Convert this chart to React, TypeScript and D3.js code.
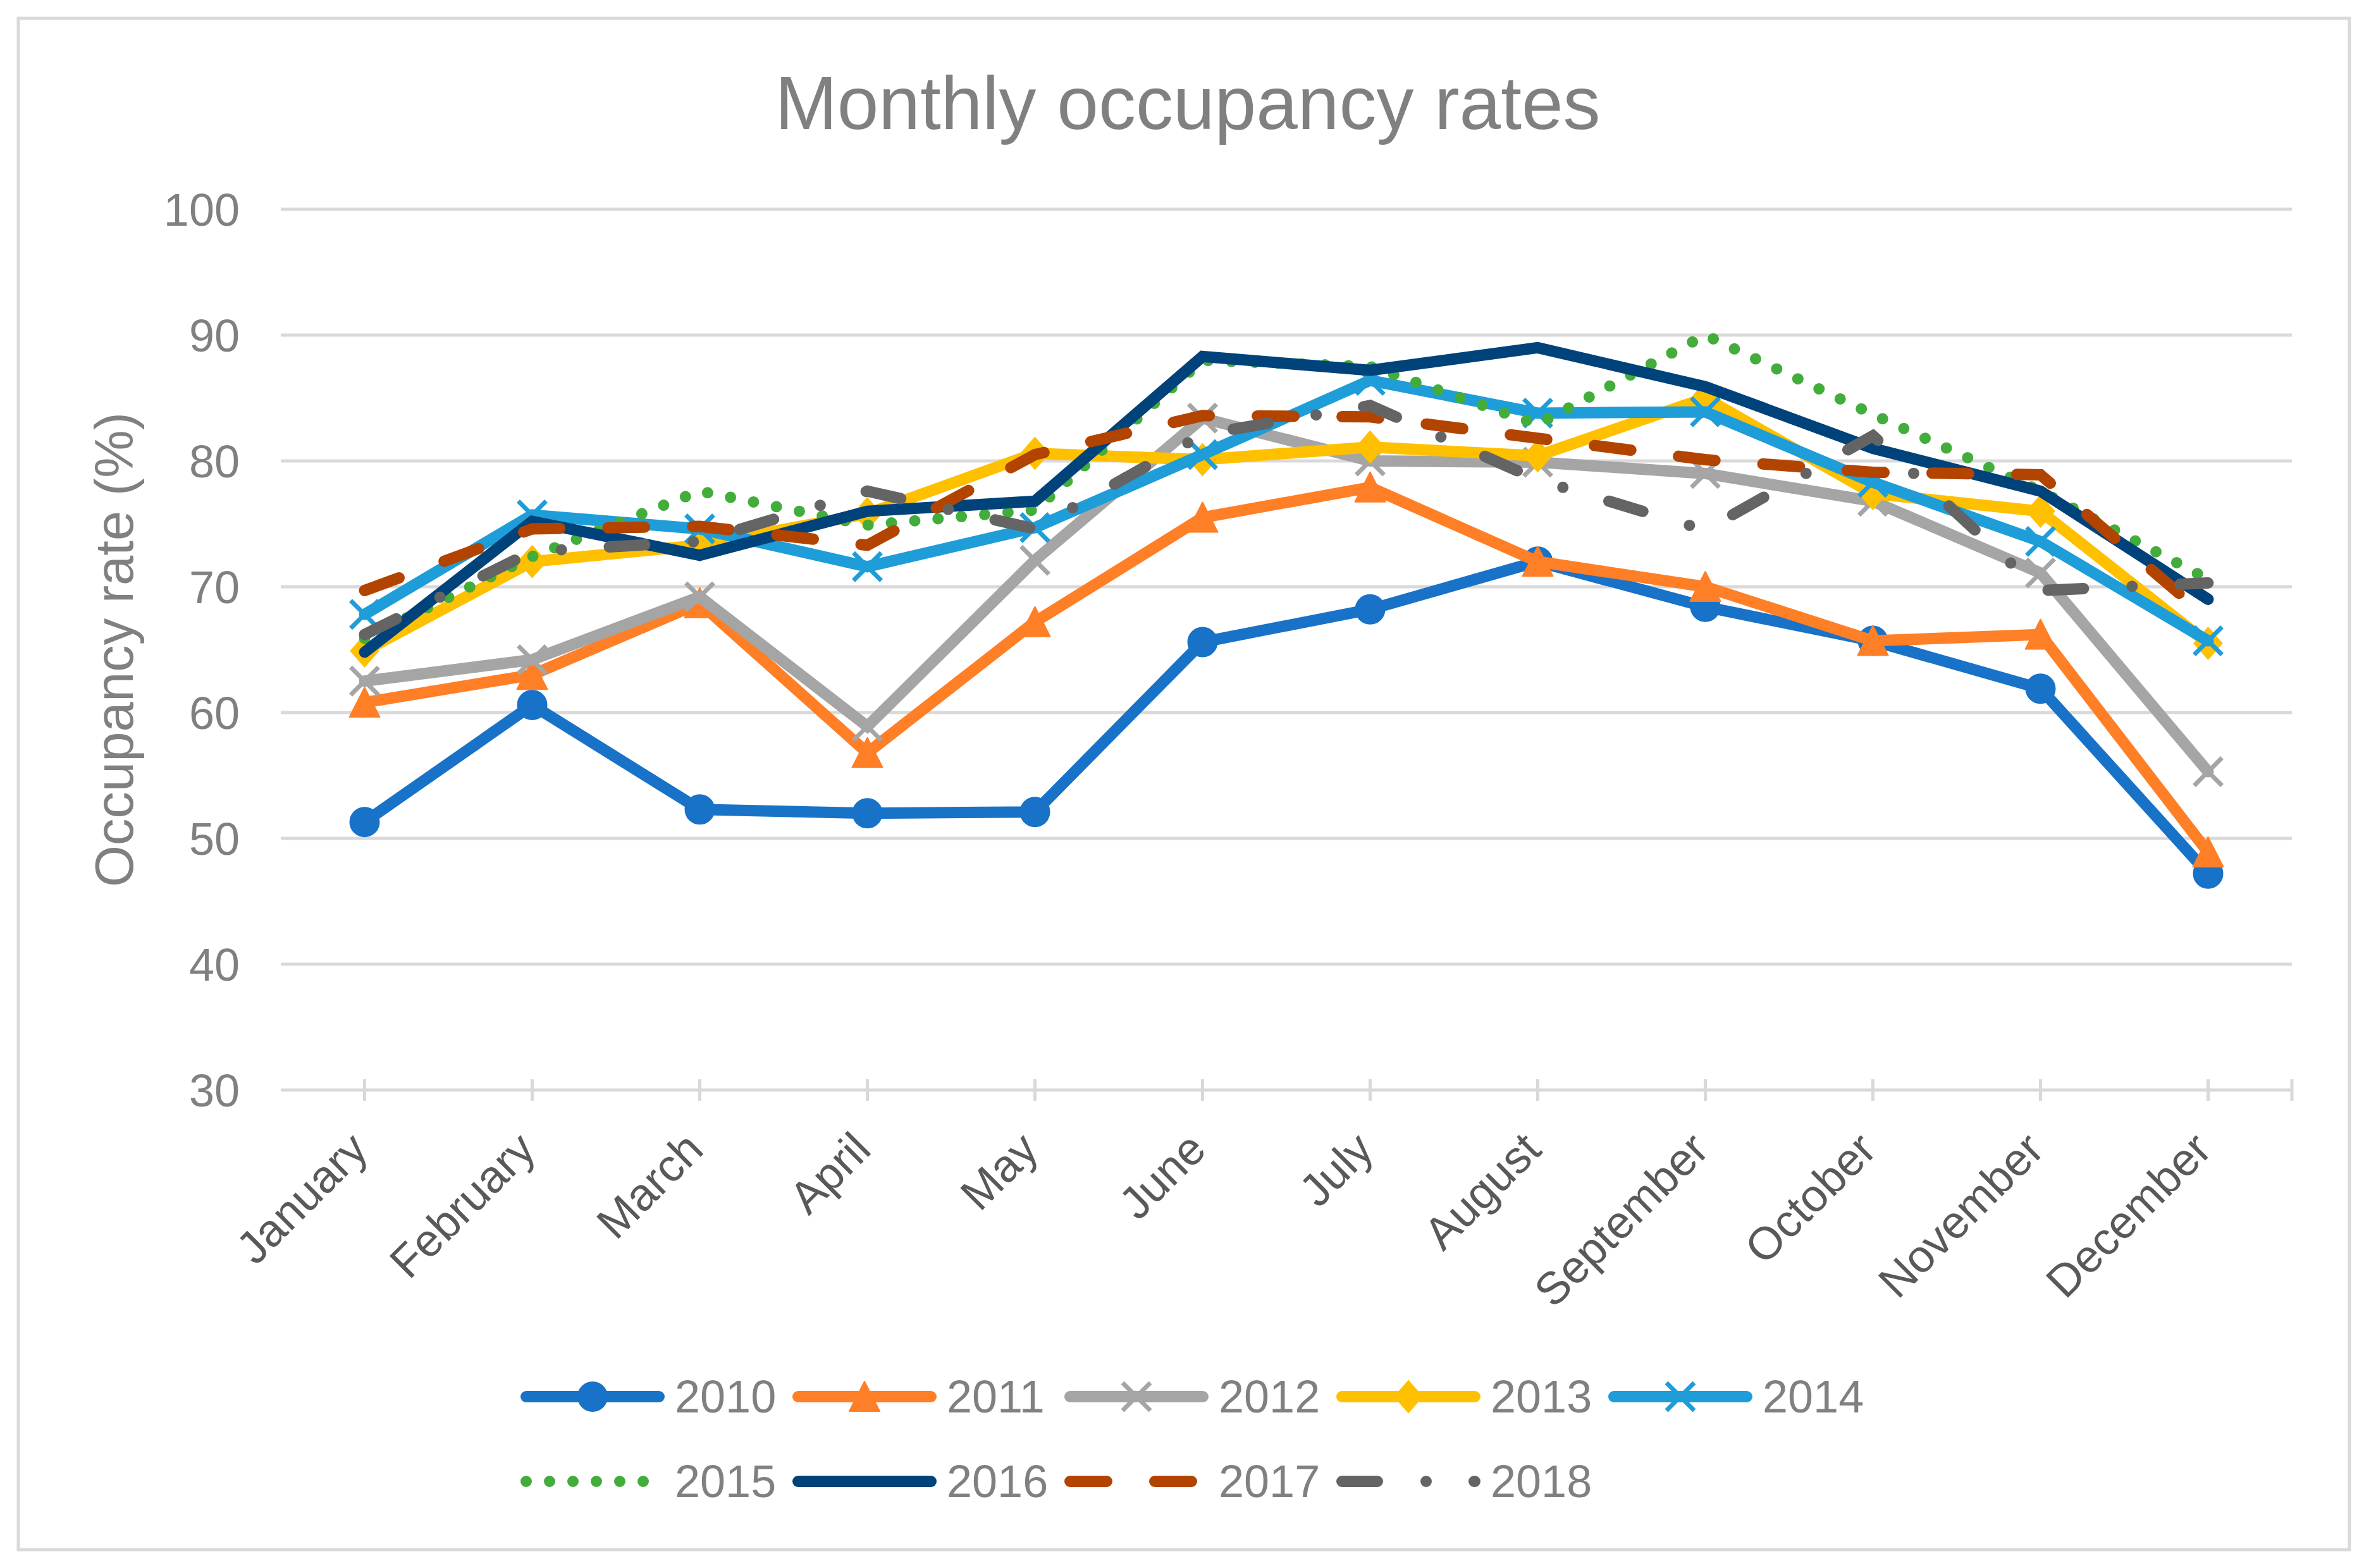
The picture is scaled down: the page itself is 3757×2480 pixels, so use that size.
import React from "react";
import * as d3 from "d3";

const months = ["January","February","March","April","May","June","July","August","September","October","November","December"];
const years = ["2010","2011","2012","2013","2014","2015","2016","2017","2018"];
const yTicks = [30,40,50,60,70,80,90,100];

const v2010 = [51.3, 60.6, 52.3, 52.0, 52.1, 65.6, 68.2, 72.0, 68.4, 65.7, 61.9, 47.2];
const v2011 = [60.8, 63.0, 68.7, 56.8, 67.2, 75.5, 77.9, 72.0, 70.0, 65.7, 66.2, 48.9];
const v2012 = [62.5, 64.2, 69.2, 58.9, 72.1, 83.4, 80.0, 79.9, 79.0, 76.8, 71.1, 55.3];
const v2013 = [64.9, 72.0, 73.3, 75.8, 80.6, 80.1, 81.1, 80.4, 85.0, 77.4, 76.0, 65.5];
const v2014 = [67.8, 75.7, 74.6, 71.6, 74.7, 80.5, 86.4, 83.8, 83.9, 78.3, 73.6, 65.7];
const v2015 = [65.9, 72.4, 77.6, 74.9, 76.1, 88.0, 87.5, 82.9, 90.0, 83.7, 77.6, 70.6];
const v2016 = [64.8, 75.2, 72.5, 76.0, 76.8, 88.3, 87.2, 89.0, 85.9, 81.0, 77.6, 69.0];
const v2017 = [69.7, 74.6, 74.8, 73.3, 80.5, 83.6, 83.5, 81.8, 80.1, 79.1, 78.9, 67.5];
const v2018 = [66.2, 72.8, 73.6, 77.6, 74.6, 82.1, 84.4, 78.5, 74.5, 82.0, 69.7, 70.3];

const seriesValues = [v2010, v2011, v2012, v2013, v2014, v2015, v2016, v2017, v2018];
const colors = ["#1872c8","#ff7f27","#a5a5a5","#ffc000","#1e9dd8","#43ad3b","#00427a","#b34400","#646464"];
const markers = ["circle","triangle","x","diamond","x","none","none","none","none"];
const dashes = [null, null, null, null, null, "0 37", null, "58 76", "56 77 0 76"];

const W = 3757, H = 2480;
const PL = 444, PR = 3624, PT = 331, PB = 1724;
const FONT = "'Liberation Sans', Arial, Helvetica, sans-serif";
const LW = 18;

function Marker({ type, x, y, color }: { type: string; x: number; y: number; color: string }) {
  if (type === "circle") return <circle cx={x} cy={y} r={23} fill={color} stroke={color} strokeWidth={2} />;
  if (type === "triangle") {
    const p = `M${x},${y - 24} L${x + 24},${y + 23} L${x - 24},${y + 23} Z`;
    return <path d={p} fill={color} stroke={color} strokeWidth={2} strokeLinejoin="round" />;
  }
  if (type === "diamond") {
    const p = `M${x},${y - 25} L${x + 22},${y} L${x},${y + 25} L${x - 22},${y} Z`;
    return <path d={p} fill={color} stroke={color} strokeWidth={2} />;
  }
  if (type === "x") {
    const s = 22;
    const p = `M${x - s},${y - s} L${x + s},${y + s} M${x + s},${y - s} L${x - s},${y + s}`;
    return <path d={p} fill="none" stroke={color} strokeWidth={7} />;
  }
  return null;
}

export default function App() {
  const x = d3.scaleBand<string>().domain(months).range([PL, PR]);
  const cx = (m: string) => (x(m) as number) + x.bandwidth() / 2;
  const y = d3.scaleLinear().domain([30, 100]).range([PB, PT]);
  const line = d3.line<number>().x((_, i) => cx(months[i])).y((d) => y(d));

  const tickXs = [...months.map(cx), PR];

  const legendX0 = 823, legendPitch = 430, legendRows = [2209, 2343];

  return (
    <svg width={W} height={H} style={{ position: "absolute", left: 0, top: 0, background: "#fff" }} fontFamily={FONT}>
      <rect x={0} y={0} width={W} height={H} fill="#fff" />
      <rect x={29} y={29} width={3686} height={2422} fill="#fff" stroke="#d9d9d9" strokeWidth={5} />
      <text x={1878} y={204} textAnchor="middle" fontSize={118} fill="#808080">Monthly occupancy rates</text>

      {yTicks.map((t) => (
        <g key={t}>
          <line x1={PL} x2={PR} y1={y(t)} y2={y(t)} stroke="#d9d9d9" strokeWidth={5} />
          <text x={379} y={y(t) + 26} textAnchor="end" fontSize={72} fill="#808080">{t}</text>
        </g>
      ))}
      {tickXs.map((tx, i) => (
        <line key={i} x1={tx} x2={tx} y1={PB - 17} y2={PB + 17} stroke="#d9d9d9" strokeWidth={5} />
      ))}
      {months.map((m) => (
        <text key={m} transform={`translate(${cx(m) + 9},${1822}) rotate(-45)`} textAnchor="end" fontSize={72} fill="#595959">{m}</text>
      ))}
      <text transform={`translate(210,${(PT + PB) / 2}) rotate(-90)`} textAnchor="middle" fontSize={85} fill="#808080">Occupancy rate (%)</text>

      {seriesValues.map((vals, si) => (
        <g key={years[si]}>
          <path d={line(vals) as string} fill="none" stroke={colors[si]} strokeWidth={LW}
            strokeDasharray={dashes[si] || undefined} strokeLinecap="round" strokeLinejoin="miter" strokeMiterlimit={4} />
          {markers[si] !== "none" && vals.map((v, i) => (
            <Marker key={i} type={markers[si]} x={cx(months[i])} y={y(v)} color={colors[si]} />
          ))}
        </g>
      ))}

      {years.map((yr, i) => {
        const row = i < 5 ? 0 : 1;
        const col = i < 5 ? i : i - 5;
        const lx = legendX0 + col * legendPitch;
        const ly = legendRows[row];
        return (
          <g key={yr}>
            <line x1={lx + 9} x2={lx + 219} y1={ly} y2={ly} stroke={colors[i]} strokeWidth={LW}
              strokeDasharray={dashes[i] || undefined} strokeLinecap="round" />
            {markers[i] !== "none" && <Marker type={markers[i]} x={lx + 114} y={ly} color={colors[i]} />}
            <text x={lx + 244} y={ly + 25} fontSize={72} fill="#808080">{yr}</text>
          </g>
        );
      })}
    </svg>
  );
}
